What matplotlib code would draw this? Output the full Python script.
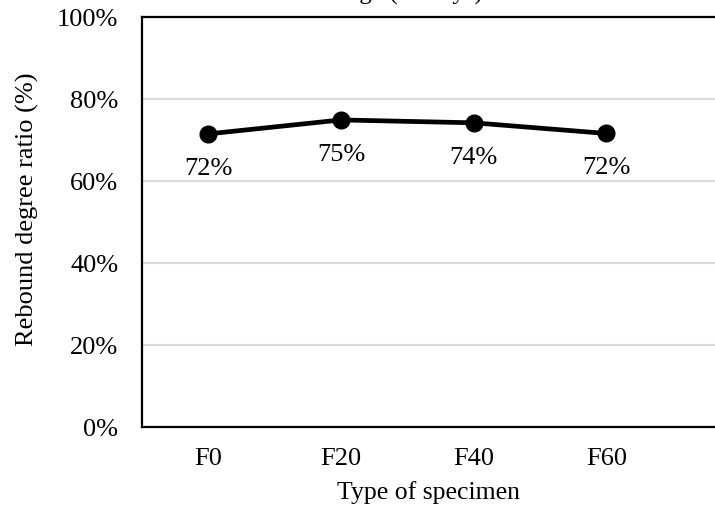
import matplotlib
matplotlib.use("Agg")
import matplotlib.pyplot as plt
from matplotlib.ticker import PercentFormatter

specimens = ["F0", "F20", "F40", "F60"]
ratio = [0.715, 0.749, 0.742, 0.716]
labels = ["72%", "75%", "74%", "72%"]

plt.rcParams["font.family"] = ["Liberation Serif", "DejaVu Serif"]

fig = plt.figure(figsize=(7.15, 5.13), dpi=100)
ax = fig.add_axes([0.1986, 0.1676, 0.8014, 0.7992])

x = list(range(len(specimens)))
ax.plot(x, ratio, color="black", lw=3.4, marker="o", markersize=12, zorder=3)
for xi, yi, txt in zip(x, ratio, labels):
    ax.annotate(txt, (xi, yi), xytext=(0, -25), textcoords="offset points",
                ha="center", va="center", fontsize=19)

ax.set_xlim(-0.5, 3.82)
ax.set_ylim(0, 1)
ax.set_yticks([0, 0.2, 0.4, 0.6, 0.8, 1.0])
ax.yaxis.set_major_formatter(PercentFormatter(1.0, decimals=0))
ax.set_xticks(x)
ax.set_xticklabels(specimens)
ax.grid(axis="y", color="#d9d9d9", lw=1.5)
ax.set_axisbelow(True)

for side in ("left", "top", "bottom"):
    ax.spines[side].set_linewidth(1.6)
    ax.spines[side].set_color("black")
ax.spines["right"].set_visible(False)
ax.tick_params(axis="both", length=0, labelsize=19)
ax.tick_params(axis="y", pad=17)
ax.tick_params(axis="x", pad=15)

ax.set_xlabel("Type of specimen", fontsize=18.5, labelpad=8)
ax.set_ylabel("Rebound degree ratio (%)", fontsize=19)
ax.yaxis.set_label_coords(-0.18, 0.53)

fig.text(391 / 715, 1.0, "Average (28 days)", ha="center", va="baseline", fontsize=18)

fig.savefig("out.png", dpi=100)
